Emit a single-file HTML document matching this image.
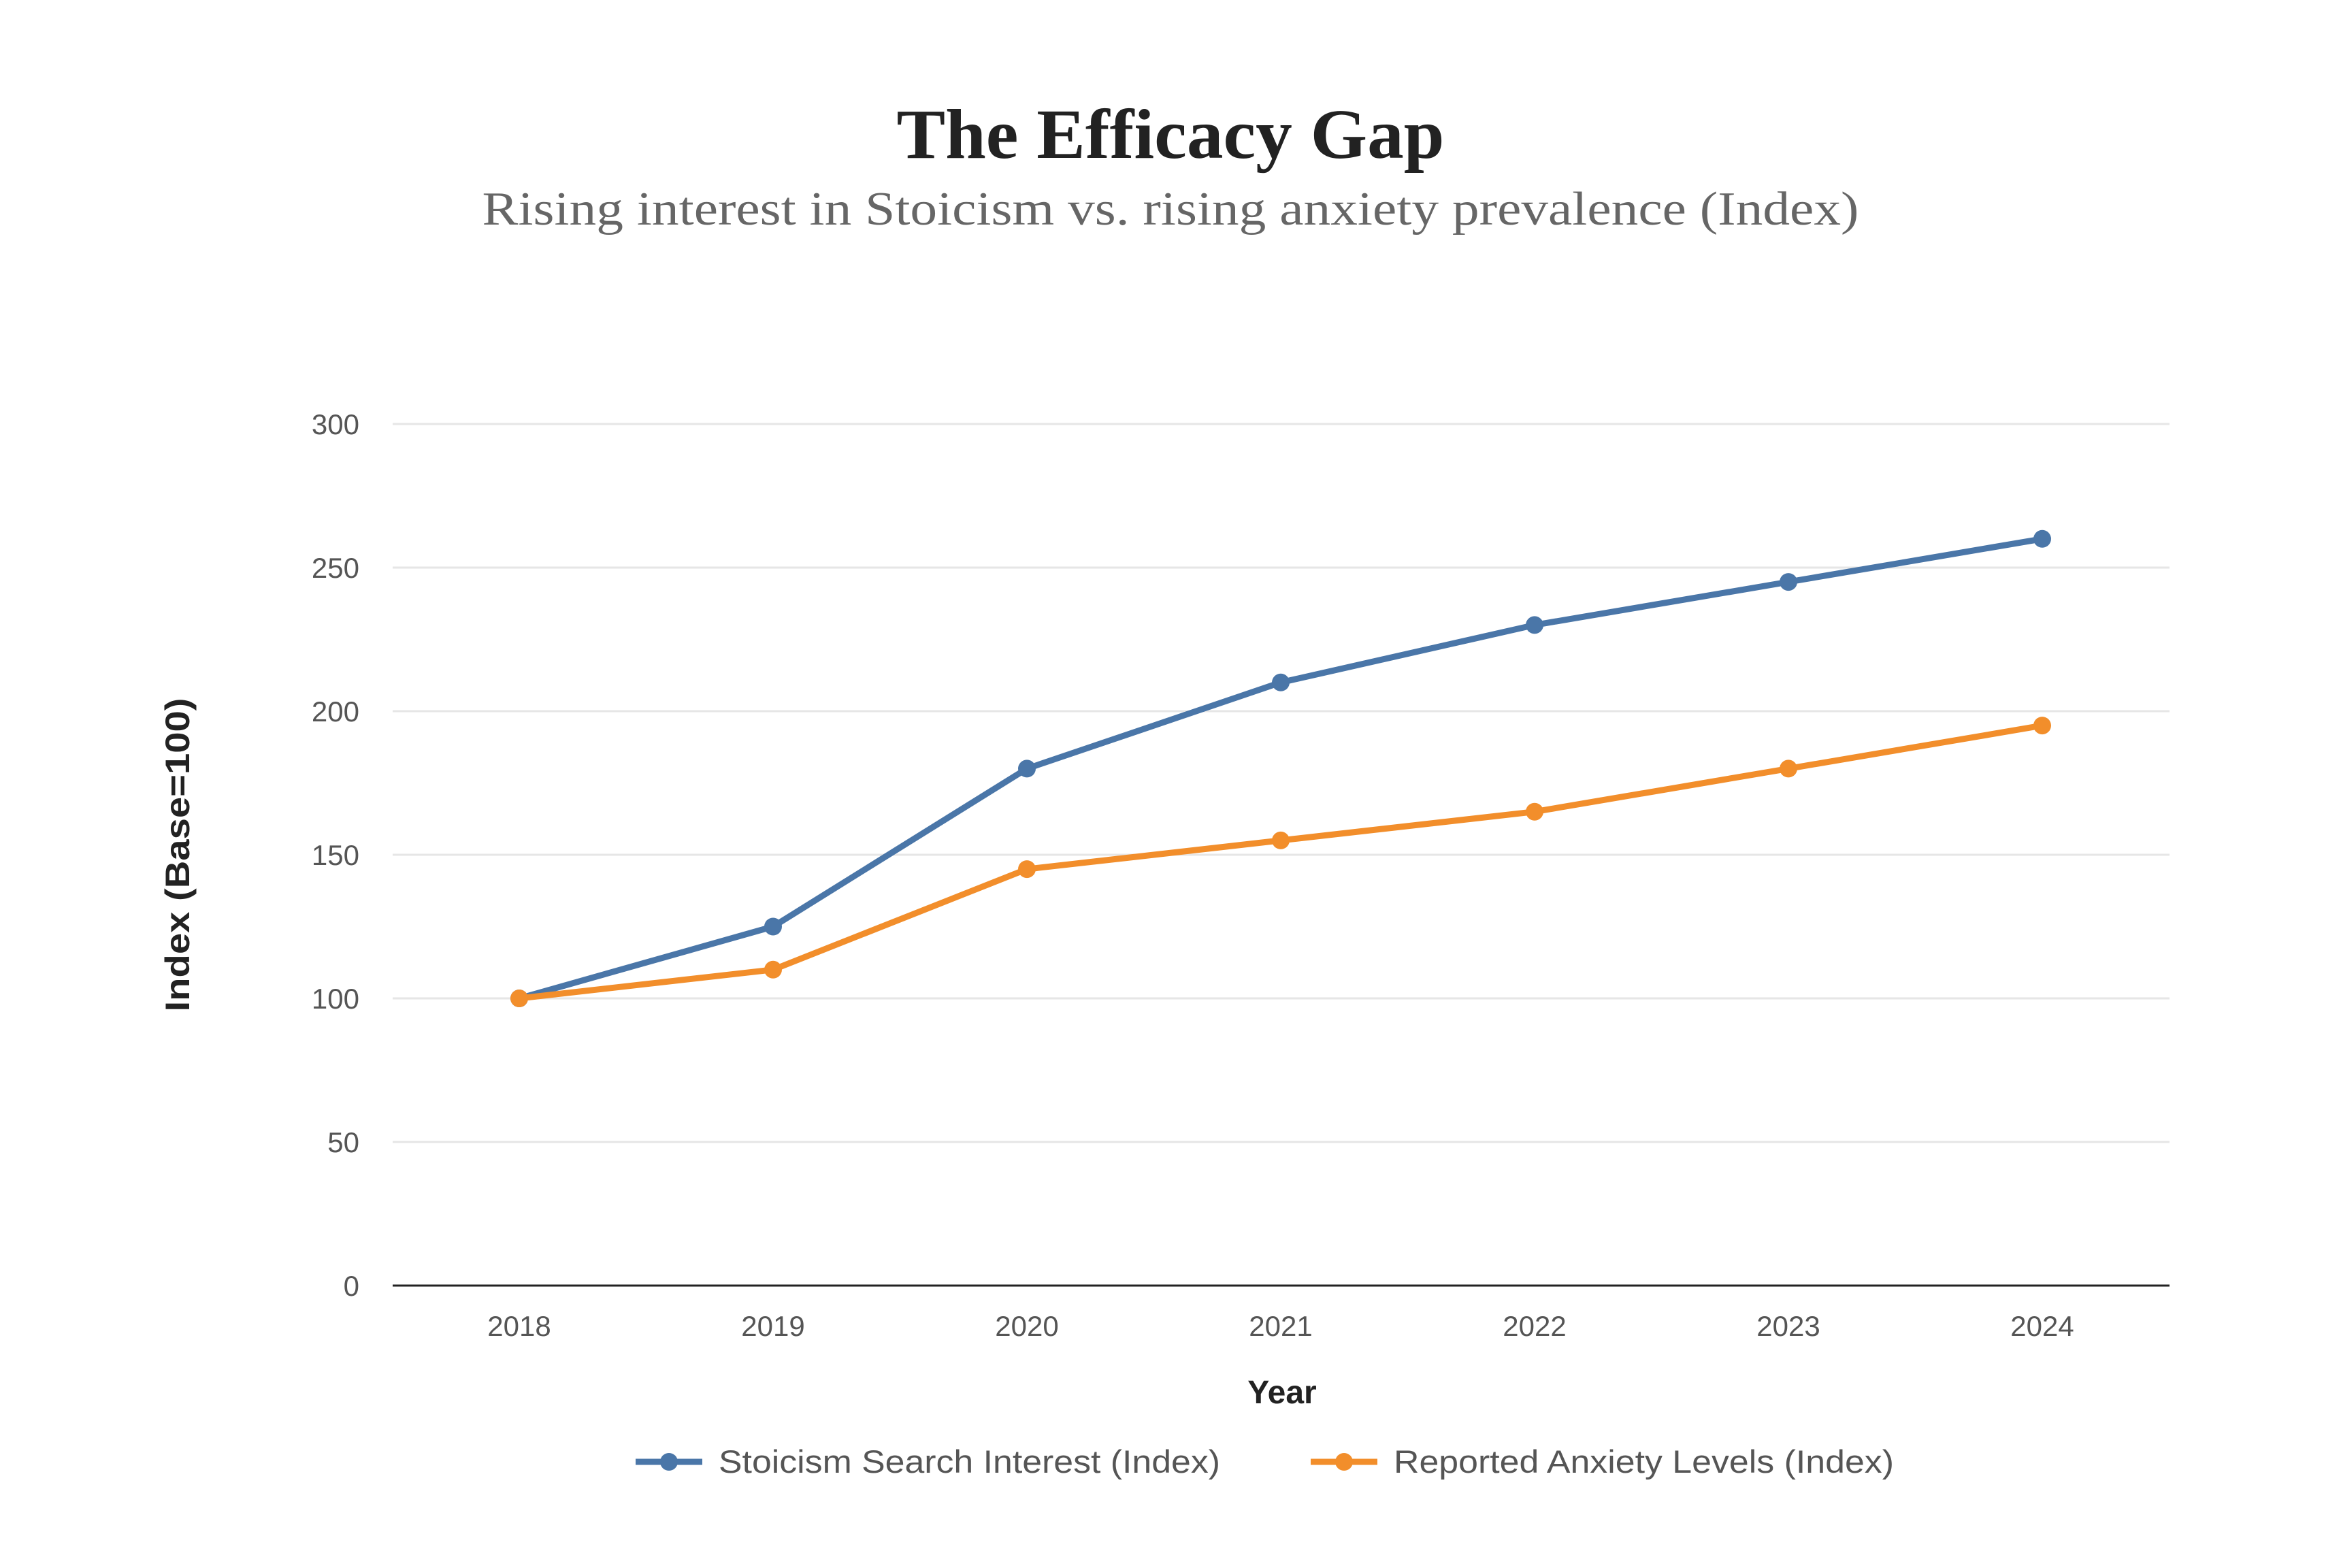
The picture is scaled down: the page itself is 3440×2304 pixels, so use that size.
<!DOCTYPE html>
<html><head><meta charset="utf-8"><style>
html,body{margin:0;padding:0;background:#fff;}
svg{display:block;}
</style></head><body>
<svg id="chart" width="3440" height="2304" viewBox="0 0 3440 2304" xmlns="http://www.w3.org/2000/svg">
<text x="1720" y="232" text-anchor="middle" font-family="Liberation Serif, serif" font-weight="bold" font-size="104" fill="#222" textLength="805" lengthAdjust="spacingAndGlyphs">The Efficacy Gap</text>
<text x="1720" y="330" text-anchor="middle" font-family="Liberation Serif, serif" font-size="70" fill="#666" textLength="2023" lengthAdjust="spacingAndGlyphs">Rising interest in Stoicism vs. rising anxiety prevalence (Index)</text>
<g id="grid"></g>
<g id="yticks"></g>
<g id="xticks"></g>
<g id="series"></g>
<text transform="translate(278,1256) rotate(-90)" text-anchor="middle" font-family="Liberation Sans, sans-serif" font-weight="bold" font-size="50" fill="#222" textLength="461" lengthAdjust="spacingAndGlyphs">Index (Base=100)</text>
<text x="1884" y="2062" text-anchor="middle" font-family="Liberation Sans, sans-serif" font-weight="bold" font-size="48" fill="#222">Year</text>
<g>
 <g>
  <line x1="934" y1="2148" x2="1032" y2="2148" stroke="#4a76a8" stroke-width="9"/>
  <circle cx="983" cy="2148" r="13" fill="#4a76a8"/>
  <text x="1056" y="2164" font-family="Liberation Sans, sans-serif" font-size="47" fill="#555" textLength="737" lengthAdjust="spacingAndGlyphs">Stoicism Search Interest (Index)</text>
 </g>
 <g>
  <line x1="1926" y1="2148" x2="2024" y2="2148" stroke="#f28e2b" stroke-width="9"/>
  <circle cx="1975" cy="2148" r="13" fill="#f28e2b"/>
  <text x="2048" y="2164" font-family="Liberation Sans, sans-serif" font-size="47" fill="#555" textLength="735" lengthAdjust="spacingAndGlyphs">Reported Anxiety Levels (Index)</text>
 </g>
</g>
</svg>
<script>
const years = ["2018","2019","2020","2021","2022","2023","2024"];
const stoicism = [100,125,180,210,230,245,260];
const anxiety = [100,110,145,155,165,180,195];
const yTicks = [0,50,100,150,200,250,300];

const NS="http://www.w3.org/2000/svg";
const L=577,R=3188,Y0=1889,Y300=623;
const x0=763,x1=3001;
function xs(i){return x0+(x1-x0)*i/(years.length-1);}
function ys(v){return Y0+(Y300-Y0)*v/300;}
function mk(tag,attrs,parent){const e=document.createElementNS(NS,tag);for(const k in attrs)e.setAttribute(k,attrs[k]);parent.appendChild(e);return e;}
const grid=document.getElementById('grid'),yt=document.getElementById('yticks'),xt=document.getElementById('xticks'),ser=document.getElementById('series');
yTicks.forEach(v=>{
 if(v>0){const g=mk('line',{x1:L,x2:R,y1:ys(v),y2:ys(v),stroke:'#e6e6e6','stroke-width':3},grid);
 
 }
 const t=mk('text',{x:528,y:ys(v)+15,'text-anchor':'end','font-family':'Liberation Sans, sans-serif','font-size':42,fill:'#555'},yt);
 t.textContent=v;
 
 
});
const ax=mk('line',{x1:L,x2:R,y1:Y0,y2:Y0,stroke:'#222','stroke-width':3},xt);


years.forEach((y,i)=>{
 const t=mk('text',{x:xs(i),y:1963,'text-anchor':'middle','font-family':'Liberation Sans, sans-serif','font-size':42,fill:'#555'},xt);
 t.textContent=y;
 
 
});
function draw(data,color,name){
 const p=mk('polyline',{points:data.map((v,i)=>xs(i)+','+ys(v)).join(' '),fill:'none',stroke:color,'stroke-width':9,'stroke-linejoin':'round'},ser);
 
 
 data.forEach((v,i)=>{
  const c=mk('circle',{cx:xs(i),cy:ys(v),r:13,fill:color},ser);
  
  
 });
}
draw(stoicism,'#4a76a8','stoicism');
draw(anxiety,'#f28e2b','anxiety');
</script>
</body></html>
